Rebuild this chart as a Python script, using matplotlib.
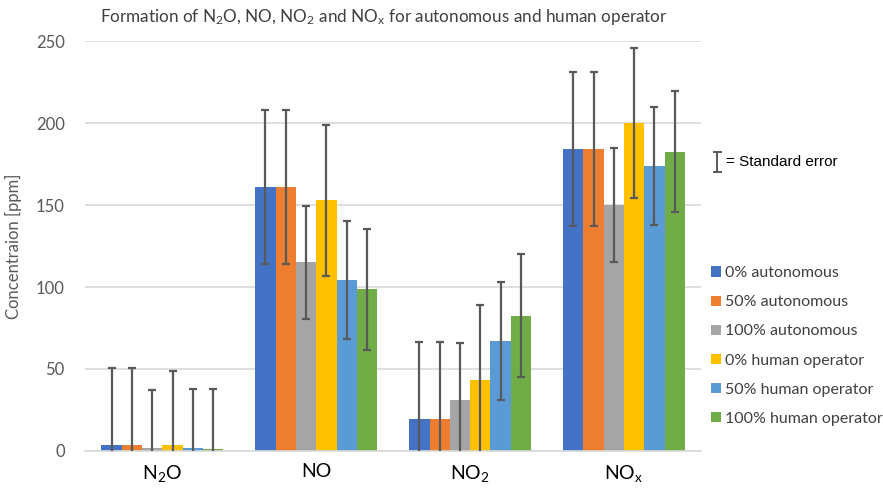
import numpy as np
import matplotlib.pyplot as plt
from matplotlib.lines import Line2D

plt.rcParams['font.family'] = ['Lato', 'DejaVu Sans']
plt.rcParams['mathtext.default'] = 'regular'

categories = ['N$_2$O', 'NO', 'NO$_2$', 'NO$_x$']
series = ['0% autonomous', '50% autonomous', '100% autonomous',
          '0% human operator', '50% human operator', '100% human operator']
colors = ['#4472C4', '#ED7D31', '#A5A5A5', '#FFC000', '#5B9BD5', '#70AD47']

# mean values per series, one entry per category
auto_0 = [3.5, 161, 19.5, 184]
auto_50 = [3.5, 161, 19.5, 184]
auto_100 = [2, 115, 31, 150]
human_0 = [3.5, 153, 43, 200]
human_50 = [2, 104.5, 67, 174]
human_100 = [1, 98.5, 82.5, 182.5]
values = [auto_0, auto_50, auto_100, human_0, human_50, human_100]

# standard errors
err_auto_0 = [47, 47, 47, 47]
err_auto_50 = [47, 47, 47, 47]
err_auto_100 = [35, 34.5, 35, 34.5]
err_human_0 = [45.5, 46, 46, 46]
err_human_50 = [35.5, 36, 36, 36]
err_human_100 = [37, 37, 37.5, 37]
errors = [err_auto_0, err_auto_50, err_auto_100, err_human_0, err_human_50, err_human_100]

fig = plt.figure(figsize=(8.83, 4.9), dpi=100)
ax = fig.add_axes([0.0968, 0.0796, 0.697, 0.8367])

x = np.arange(len(categories))
w = 0.132
for i in range(len(series)):
    off = (i - 2.5) * w
    ax.bar(x + off, values[i], w, color=colors[i], label=series[i], zorder=2)
    ax.errorbar(x + off, values[i], yerr=errors[i], fmt='none', ecolor='#595959',
                elinewidth=1.6, capsize=3, capthick=1.6, zorder=3)

ax.set_xlim(-0.5, 3.5)
ax.set_ylim(0, 250)
ax.set_yticks([0, 50, 100, 150, 200, 250])
ax.set_xticks(x)
ax.set_xticklabels(categories, fontsize=14, color='black')
ax.tick_params(axis='y', length=0, labelsize=12, labelcolor='#595959', pad=15)
ax.tick_params(axis='x', length=0, pad=9)
ax.grid(axis='y', color='#D9D9D9', lw=1.2, zorder=0)
for s in ['top', 'right', 'left']:
    ax.spines[s].set_visible(False)
ax.spines['bottom'].set_color('#D9D9D9')
ax.spines['bottom'].set_linewidth(1.2)

ax.set_ylabel('Concentraion [ppm]', fontsize=12, color='#595959', labelpad=10)

fig.text(0.435, 0.965, 'Formation of N$_2$O, NO, NO$_2$ and NO$_x$ for autonomous and human operator',
         ha='center', va='center', fontsize=12.3, color='#404040')

ax.legend(loc='upper left', bbox_to_anchor=(0.798, 0.47), bbox_transform=fig.transFigure,
          frameon=False, fontsize=11.5, labelcolor='#404040', handlelength=0.6,
          handleheight=0.6, handletextpad=0.3, labelspacing=0.95, borderaxespad=0)

# standard error key
kx, ky0, ky1 = 0.8125, 0.648, 0.69
fig.add_artist(Line2D([kx, kx], [ky0, ky1], color='#595959', lw=1.4))
fig.add_artist(Line2D([kx - 0.004, kx + 0.004], [ky0, ky0], color='#595959', lw=1.4))
fig.add_artist(Line2D([kx - 0.004, kx + 0.004], [ky1, ky1], color='#595959', lw=1.4))
fig.text(0.822, 0.669, '= Standard error', ha='left', va='center', fontsize=11,
         family='Liberation Sans', color='black')

fig.savefig('out.png', dpi=100)
